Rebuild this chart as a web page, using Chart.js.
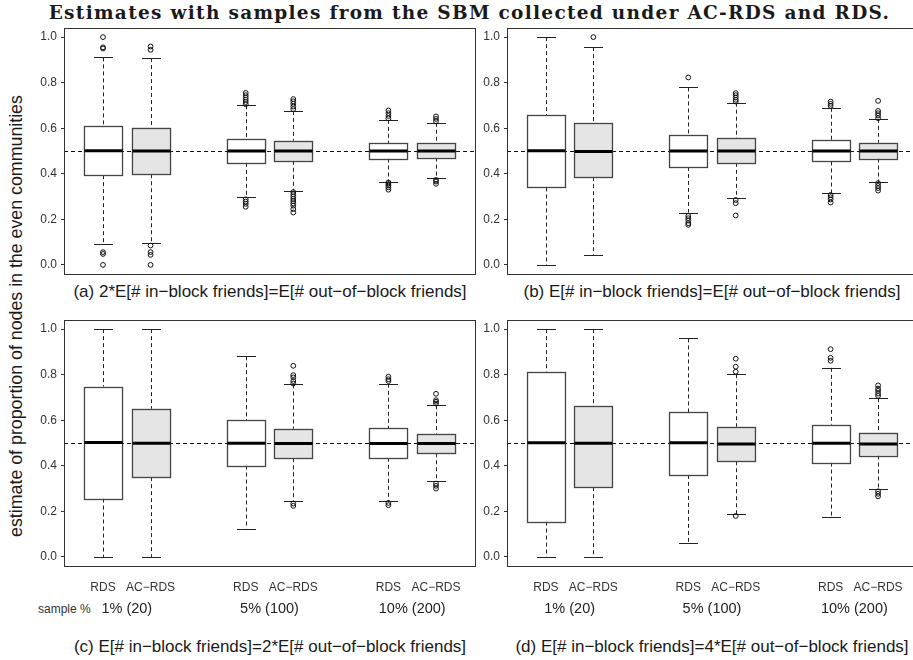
<!DOCTYPE html>
<html>
<head>
<meta charset="utf-8">
<script src="https://cdn.jsdelivr.net/npm/chart.js@4.4.1/dist/chart.umd.min.js"></script>
<style>
  html, body { margin: 0; padding: 0; background: #fff; overflow: hidden; }
  body { width: 913px; height: 660px; position: relative; font-family: "Liberation Sans", Arial, sans-serif; color: #1a1a1a; }
  canvas { position: absolute; }
  .txt { position: absolute; white-space: nowrap; }
  #title { left: 0; width: 939px; top: 0px; line-height: 26px; text-align: center; font-family: "DejaVu Serif", serif; font-weight: bold; font-size: 18.5px; letter-spacing: 1.3px; }
  .cap { width: 600px; text-align: center; font-size: 17px; line-height: 20px; }
  #ytitle { left: -284px; top: 306px; width: 600px; line-height: 20px; text-align: center; font-size: 17.8px; transform: rotate(-90deg); }
  #samp { left: 38px; top: 601px; font-size: 12px; line-height: 16px; color: #333; }
</style>
</head>
<body>
<div id="title" class="txt">Estimates with samples from the SBM collected under AC-RDS and RDS.</div>
<div id="ytitle" class="txt">estimate of proportion of nodes in the even communities</div>
<div class="txt cap" style="left:-30px; top:282px;">(a) 2*E[# in−block friends]=E[# out−of−block friends]</div>
<div class="txt cap" style="left:412px; top:282px;">(b) E[# in−block friends]=E[# out−of−block friends]</div>
<div class="txt cap" style="left:-30px; top:637px;">(c) E[# in−block friends]=2*E[# out−of−block friends]</div>
<div class="txt cap" style="left:412px; top:637px;">(d) E[# in−block friends]=4*E[# out−of−block friends]</div>
<div id="samp" class="txt">sample %</div>

<script>
// box order: RDS 1%, AC-RDS 1%, RDS 5%, AC-RDS 5%, RDS 10%, AC-RDS 10%
const positions = [1, 2, 4, 5, 7, 8];
const methodLabels = ['RDS', 'AC−RDS', 'RDS', 'AC−RDS', 'RDS', 'AC−RDS'];
const groupPositions = [1.5, 4.5, 7.5];
const sampleLabels = ['1% (20)', '5% (100)', '10% (200)'];
const yTicks = [0, 0.2, 0.4, 0.6, 0.8, 1.0];
const boxFills = ['#ffffff', '#e5e5e5', '#ffffff', '#e5e5e5', '#ffffff', '#e5e5e5'];

// [lower whisker, Q1, median, Q3, upper whisker]
const statsA = [
    [0.091, 0.394, 0.501, 0.608, 0.911],
    [0.095, 0.398, 0.500, 0.603, 0.908],
    [0.300, 0.448, 0.500, 0.551, 0.701],
    [0.326, 0.457, 0.500, 0.545, 0.676],
    [0.366, 0.467, 0.500, 0.534, 0.637],
    [0.381, 0.471, 0.500, 0.533, 0.624]
];
const outliersA = [
    [1.0, 0.955, 0.95, 0.056, 0.048, 0.0],
    [0.959, 0.944, 0.085, 0.056, 0.044, 0.0],
    [0.755, 0.745, 0.735, 0.725, 0.715, 0.705, 0.288, 0.278, 0.268, 0.255],
    [0.728, 0.718, 0.707, 0.695, 0.684, 0.32, 0.31, 0.30, 0.29, 0.28, 0.27, 0.26, 0.245, 0.23],
    [0.678, 0.666, 0.654, 0.643, 0.362, 0.355, 0.348, 0.340, 0.33],
    [0.652, 0.641, 0.630, 0.373, 0.366, 0.356]
];

const statsB = [
    [0.000, 0.340, 0.501, 0.657, 1.000],
    [0.044, 0.385, 0.498, 0.622, 0.956],
    [0.230, 0.430, 0.500, 0.570, 0.779],
    [0.293, 0.448, 0.500, 0.555, 0.712],
    [0.315, 0.454, 0.500, 0.548, 0.690],
    [0.363, 0.467, 0.500, 0.536, 0.641]
];
const outliersB = [
    [],
    [1.0],
    [0.823, 0.215, 0.205, 0.195, 0.183, 0.176],
    [0.754, 0.745, 0.735, 0.725, 0.717, 0.285, 0.271, 0.217],
    [0.717, 0.707, 0.698, 0.307, 0.297, 0.287, 0.274],
    [0.720, 0.676, 0.666, 0.656, 0.644, 0.359, 0.347, 0.337, 0.326]
];

const statsC = [
    [0.000, 0.256, 0.502, 0.747, 1.000],
    [0.000, 0.350, 0.499, 0.650, 1.000],
    [0.124, 0.401, 0.499, 0.599, 0.881],
    [0.245, 0.433, 0.498, 0.562, 0.757],
    [0.246, 0.435, 0.498, 0.564, 0.760],
    [0.331, 0.455, 0.498, 0.540, 0.666]
];
const outliersC = [
    [],
    [],
    [],
    [0.839, 0.798, 0.788, 0.772, 0.761, 0.234, 0.224],
    [0.791, 0.780, 0.772, 0.237, 0.227],
    [0.716, 0.688, 0.681, 0.673, 0.322, 0.312, 0.300]
];

const statsD = [
    [0.000, 0.155, 0.501, 0.813, 1.000],
    [0.000, 0.306, 0.499, 0.663, 1.000],
    [0.060, 0.360, 0.501, 0.635, 0.959],
    [0.187, 0.420, 0.496, 0.571, 0.802],
    [0.177, 0.414, 0.499, 0.580, 0.830],
    [0.297, 0.445, 0.496, 0.546, 0.697]
];
const outliersD = [
    [],
    [],
    [],
    [0.870, 0.835, 0.813, 0.180],
    [0.912, 0.874, 0.861],
    [0.753, 0.739, 0.729, 0.717, 0.707, 0.288, 0.277, 0.266]
];

const refLine = 0.5;
const FONT = '"Liberation Sans", Arial, sans-serif';

// draws the boxes, whiskers and the reference line with the chart's scales
const boxPlugin = {
    id: 'boxes',
    beforeDatasetsDraw(chart, args, opts) {
        const ctx = chart.ctx;
        const xs = chart.scales.x, ys = chart.scales.y;
        const area = chart.chartArea;
        const unit = xs.getPixelForValue(1) - xs.getPixelForValue(0);
        ctx.save();

        // dashed line at 0.5
        const yr = Math.round(ys.getPixelForValue(refLine)) + 0.5;
        ctx.strokeStyle = '#111';
        ctx.lineWidth = 1;
        ctx.setLineDash([4, 3]);
        ctx.beginPath();
        ctx.moveTo(area.left, yr);
        ctx.lineTo(area.right, yr);
        ctx.stroke();

        opts.stats.forEach((s, i) => {
            const cx = Math.round(xs.getPixelForValue(positions[i])) + 0.5;
            const [lo, q1, md, q3, hi] = s.map(v => ys.getPixelForValue(v));
            const hw = 0.4 * unit, cw = 0.2 * unit;

            // whiskers
            ctx.setLineDash([4, 3]);
            ctx.strokeStyle = '#222';
            ctx.lineWidth = 1;
            ctx.beginPath();
            ctx.moveTo(cx, hi); ctx.lineTo(cx, q3);
            ctx.moveTo(cx, q1); ctx.lineTo(cx, lo);
            ctx.stroke();
            ctx.setLineDash([]);

            // caps
            ctx.beginPath();
            ctx.moveTo(cx - cw, Math.round(hi) + 0.5); ctx.lineTo(cx + cw, Math.round(hi) + 0.5);
            ctx.moveTo(cx - cw, Math.round(lo) + 0.5); ctx.lineTo(cx + cw, Math.round(lo) + 0.5);
            ctx.stroke();

            // box
            ctx.fillStyle = opts.fills[i];
            ctx.fillRect(cx - hw, q3, 2 * hw, q1 - q3);
            ctx.strokeStyle = '#444';
            ctx.lineWidth = 1.3;
            ctx.strokeRect(cx - hw, Math.round(q3) + 0.5, 2 * hw, Math.round(q1) - Math.round(q3));

            // median
            ctx.strokeStyle = '#000';
            ctx.lineWidth = 3;
            ctx.beginPath();
            ctx.moveTo(cx - hw, md); ctx.lineTo(cx + hw, md);
            ctx.stroke();
        });
        ctx.restore();
    },
    afterDraw(chart) {
        const ctx = chart.ctx;
        const a = chart.chartArea;
        ctx.save();
        ctx.strokeStyle = '#333';
        ctx.lineWidth = 1;
        ctx.strokeRect(Math.round(a.left) + 0.5, Math.round(a.top) + 0.5,
            Math.round(a.right - a.left), Math.round(a.bottom - a.top));
        ctx.restore();
    }
};

function makePanel(frame, stats, outliers, showX) {
    const padTop = 16, padBot = showX ? 6 : 16, padRight = 6, yW = 50;
    const xH = 30, x2H = 25;
    const cv = document.createElement('canvas');
    const w = frame.r - frame.l + yW + padRight;
    const h = frame.b - frame.t + padTop + padBot + (showX ? xH + x2H : 0);
    cv.width = w; cv.height = h;
    cv.style.left = (frame.l - yW) + 'px';
    cv.style.top = (frame.t - padTop) + 'px';
    cv.style.width = w + 'px';
    cv.style.height = h + 'px';
    document.body.appendChild(cv);

    const points = [];
    outliers.forEach((arr, i) => arr.forEach(v => points.push({ x: positions[i], y: v })));

    return new Chart(cv.getContext('2d'), {
        type: 'scatter',
        data: {
            datasets: [{
                data: points,
                pointStyle: 'circle',
                pointRadius: 2.4,
                borderWidth: 1,
                borderColor: '#111',
                backgroundColor: 'rgba(0,0,0,0)'
            }]
        },
        options: {
            responsive: false,
            animation: false,
            events: [],
            layout: { padding: { left: 0, right: padRight, top: padTop, bottom: padBot } },
            plugins: {
                legend: { display: false },
                tooltip: { enabled: false },
                boxes: { stats: stats, fills: boxFills }
            },
            scales: {
                x: {
                    type: 'linear', min: 0.18, max: 8.82,
                    display: showX,
                    afterBuildTicks: s => { s.ticks = positions.map(v => ({ value: v })); },
                    afterFit: s => { if (showX) s.height = xH; },
                    grid: { display: false, drawTicks: false },
                    border: { display: false },
                    ticks: {
                        autoSkip: false, maxRotation: 0, padding: 14, color: '#333',
                        font: { family: FONT, size: 12 },
                        callback: (v, i) => methodLabels[i]
                    }
                },
                x2: {
                    type: 'linear', position: 'bottom', weight: 1, min: 0.18, max: 8.82,
                    display: showX,
                    afterBuildTicks: s => { s.ticks = groupPositions.map(v => ({ value: v })); },
                    afterFit: s => { if (showX) s.height = x2H; },
                    grid: { display: false, drawTicks: false },
                    border: { display: false },
                    ticks: {
                        autoSkip: false, maxRotation: 0, padding: 4, color: '#222',
                        font: { family: FONT, size: 14.5 },
                        callback: (v, i) => sampleLabels[i]
                    }
                },
                y: {
                    type: 'linear', min: -0.04, max: 1.04,
                    afterBuildTicks: s => { s.ticks = yTicks.map(v => ({ value: v })); },
                    afterFit: s => { s.width = yW; },
                    grid: { drawOnChartArea: false, drawTicks: true, tickLength: 3, color: '#333' },
                    border: { display: false },
                    ticks: {
                        padding: 4, color: '#333',
                        font: { family: FONT, size: 12 },
                        callback: v => v.toFixed(1)
                    }
                }
            }
        },
        plugins: [boxPlugin]
    });
}

makePanel({ l: 64, t: 28, r: 475, b: 274 }, statsA, outliersA, false);
makePanel({ l: 507, t: 28, r: 917, b: 274 }, statsB, outliersB, false);
makePanel({ l: 64, t: 320, r: 475, b: 566 }, statsC, outliersC, true);
makePanel({ l: 507, t: 320, r: 917, b: 566 }, statsD, outliersD, true);
</script>
</body>
</html>
